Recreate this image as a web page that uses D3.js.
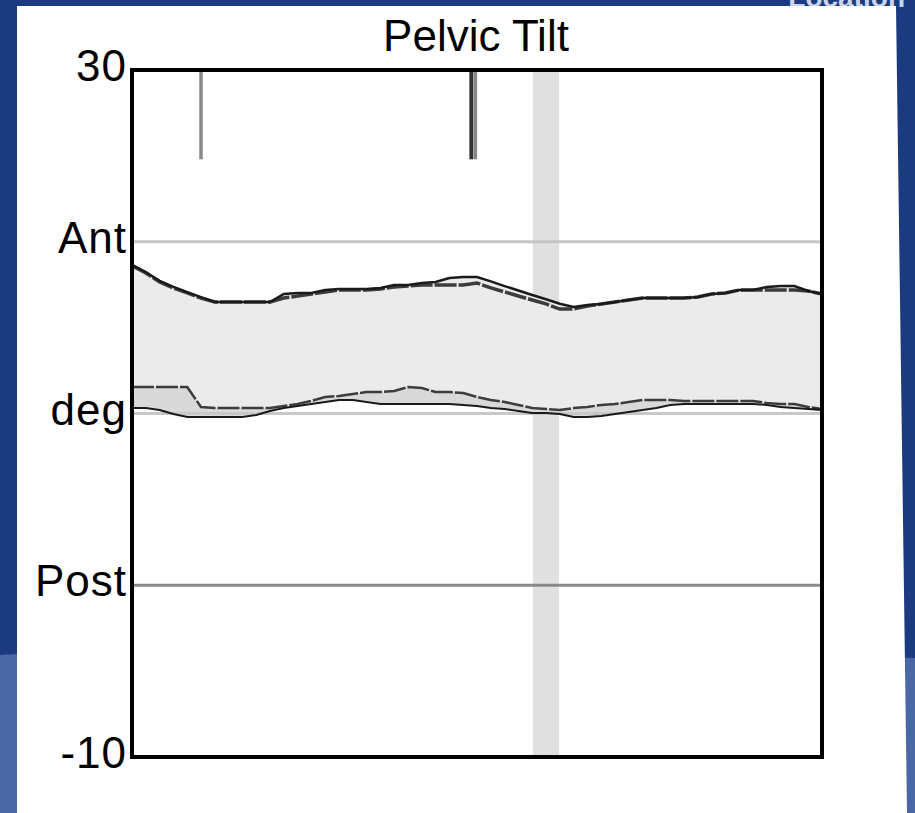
<!DOCTYPE html>
<html>
<head>
<meta charset="utf-8">
<script src="https://cdn.jsdelivr.net/npm/d3@7/dist/d3.min.js"></script>
<style>
  html, body { margin: 0; padding: 0; background: #1b3a80; }
  svg { display: block; }
</style>
</head>
<body>
<svg id="chart" width="915" height="813"></svg>
<script>
// ---------- data ----------
const title = "Pelvic Tilt";
const cornerText = "Location";
const pct = [0,2,4,6,8,10,12,14,16,18,20,22,24,26,28,30,32,34,36,38,40,42,44,46,48,50,
             52,54,56,58,60,62,64,66,68,70,72,74,76,78,80,82,84,86,88,90,92,94,96,98,100];
// upper edge of band, trace A (solid)
const upperA = [18.65,18.24,17.72,17.37,17.07,16.78,16.49,16.49,16.49,16.49,16.49,16.96,17.02,17.02,17.19,17.25,17.25,17.25,17.31,17.48,17.48,17.60,17.66,17.89,17.95,17.95,
                17.69,17.42,17.16,16.90,16.65,16.39,16.20,16.32,16.38,16.49,16.61,16.72,16.72,16.72,16.72,16.78,16.96,17.02,17.19,17.19,17.37,17.42,17.42,17.13,16.96];
// upper edge of band, trace B (dashed)
const upperB = [18.60,18.18,17.66,17.31,17.02,16.72,16.49,16.49,16.49,16.49,16.49,16.72,16.84,16.96,17.07,17.19,17.19,17.19,17.25,17.36,17.42,17.48,17.48,17.48,17.48,17.60,
                17.31,17.08,16.84,16.61,16.38,16.08,16.08,16.26,16.38,16.49,16.61,16.72,16.72,16.72,16.72,16.78,16.96,17.02,17.19,17.19,17.19,17.19,17.19,17.13,16.96];
// lower edge of band, trace A (solid)
const lowerA = [10.32,10.32,10.20,9.97,9.80,9.80,9.80,9.80,9.80,9.91,10.15,10.32,10.44,10.55,10.67,10.79,10.79,10.67,10.55,10.55,10.55,10.55,10.55,10.55,10.50,10.44,
                10.32,10.26,10.15,10.03,10.03,9.97,9.80,9.80,9.85,9.97,10.09,10.20,10.32,10.50,10.55,10.55,10.55,10.55,10.55,10.55,10.50,10.38,10.32,10.26,10.20];
// lower edge of band, trace B (dashed)
const lowerB = [11.54,11.54,11.54,11.54,11.54,10.38,10.32,10.32,10.32,10.32,10.32,10.44,10.55,10.73,10.96,11.02,11.13,11.25,11.25,11.31,11.54,11.48,11.25,11.25,11.19,10.96,
                10.79,10.67,10.50,10.32,10.26,10.20,10.32,10.38,10.50,10.55,10.67,10.79,10.79,10.79,10.73,10.73,10.73,10.73,10.73,10.73,10.61,10.55,10.55,10.38,10.26];
const gridValues = [20, 10, 0];
const gridColors = ["#c4c4c4", "#c8c8c8", "#8a8a8a"];
const yLabelValues = [30, 20, 10, 0, -10];
const yLabelTexts = ["30", "Ant", "deg", "Post", "-10"];
const oppFootOff = 10;       // grey tick
const oppFootContact = 49.4; // dark tick
const toeOffRange = [58.1, 61.9];
const eventTickTop = 30, eventTickBottom = 24.8;

// ---------- layout ----------
const svg = d3.select("#chart");
const W = 915, H = 813;
const x = d3.scaleLinear().domain([0, 100]).range([132, 822]);
const y = d3.scaleLinear().domain([-10, 30]).range([757, 70]);
const font = "Liberation Sans, Arial, sans-serif";

// background
svg.append("rect").attr("width", W).attr("height", H).attr("fill", "#1b3a80");
svg.append("path")
  .attr("d", "M0,655 C200,640 600,648 915,658 L915,813 L0,813 Z")
  .attr("fill", "#4a68a6");
svg.append("text").attr("x", 905).attr("y", 7).attr("text-anchor", "end")
  .attr("font-family", font).attr("font-weight", "bold")
  .attr("font-size", 28).attr("fill", "#c9d4ea").text(cornerText);
// white panel
svg.append("path").attr("d", "M17,6 L896,6 L907,813 L17,813 Z").attr("fill", "#ffffff");

svg.append("text").attr("x", 476).attr("y", 51).attr("text-anchor", "middle")
  .attr("font-family", font).attr("font-size", 44).attr("fill", "#000").text(title);

// toe-off band
svg.append("rect")
  .attr("x", x(toeOffRange[0])).attr("width", x(toeOffRange[1]) - x(toeOffRange[0]))
  .attr("y", y(30) + 2).attr("height", y(-10) - y(30) - 2)
  .attr("fill", "#e0e0e0");

const data = pct.map((p, i) => ({ p, uA: upperA[i], uB: upperB[i], lA: lowerA[i], lB: lowerB[i] }));

// light band
svg.append("path").datum(data)
  .attr("d", d3.area().x(d => x(d.p)).y0(d => y(Math.max(d.lA, d.lB))).y1(d => y(Math.max(d.uA, d.uB))))
  .attr("fill", "#ebebeb");
// darker region between the lower edges
svg.append("path").datum(data)
  .attr("d", d3.area().x(d => x(d.p)).y0(d => y(d.lA)).y1(d => y(d.lB)))
  .attr("fill", "#d9d9d9");

// grid lines
svg.selectAll("line.grid").data(gridValues).join("line")
  .attr("class", "grid")
  .attr("x1", x(0)).attr("x2", x(100))
  .attr("y1", d => y(d)).attr("y2", d => y(d))
  .attr("stroke", (d, i) => gridColors[i]).attr("stroke-width", 3);

// edge lines
const line = acc => d3.line().x(d => x(d.p)).y(d => y(acc(d)));
svg.append("path").datum(data).attr("d", line(d => d.uB))
  .attr("fill", "none").attr("stroke", "#3c3c3c").attr("stroke-width", 3.5).attr("stroke-dasharray", "22,2");
svg.append("path").datum(data).attr("d", line(d => d.uA))
  .attr("fill", "none").attr("stroke", "#1a1a1a").attr("stroke-width", 2.5);
svg.append("path").datum(data).attr("d", line(d => d.lB))
  .attr("fill", "none").attr("stroke", "#3c3c3c").attr("stroke-width", 2.5).attr("stroke-dasharray", "22,2");
svg.append("path").datum(data).attr("d", line(d => d.lA))
  .attr("fill", "none").attr("stroke", "#1a1a1a").attr("stroke-width", 2);

// event ticks
svg.append("line").attr("x1", x(oppFootOff)).attr("x2", x(oppFootOff))
  .attr("y1", y(eventTickTop) + 2).attr("y2", y(eventTickBottom))
  .attr("stroke", "#8a8a8a").attr("stroke-width", 3.5);
svg.append("line").attr("x1", x(oppFootContact) - 1.5).attr("x2", x(oppFootContact) - 1.5)
  .attr("y1", y(eventTickTop) + 2).attr("y2", y(eventTickBottom))
  .attr("stroke", "#333").attr("stroke-width", 4);
svg.append("line").attr("x1", x(oppFootContact) + 2.5).attr("x2", x(oppFootContact) + 2.5)
  .attr("y1", y(eventTickTop) + 2).attr("y2", y(eventTickBottom))
  .attr("stroke", "#888").attr("stroke-width", 3.5);

// frame
svg.append("rect").attr("x", x(0)).attr("y", y(30)).attr("width", x(100) - x(0)).attr("height", y(-10) - y(30))
  .attr("fill", "none").attr("stroke", "#000").attr("stroke-width", 4);

// y labels
svg.selectAll("text.ylab").data(yLabelValues).join("text")
  .attr("class", "ylab")
  .attr("x", 127).attr("y", d => y(d) + 11)
  .attr("text-anchor", "end").attr("font-family", font).attr("font-size", 44)
  .attr("letter-spacing", 1)
  .attr("fill", "#000")
  .text((d, i) => yLabelTexts[i]);
</script>
</body>
</html>
